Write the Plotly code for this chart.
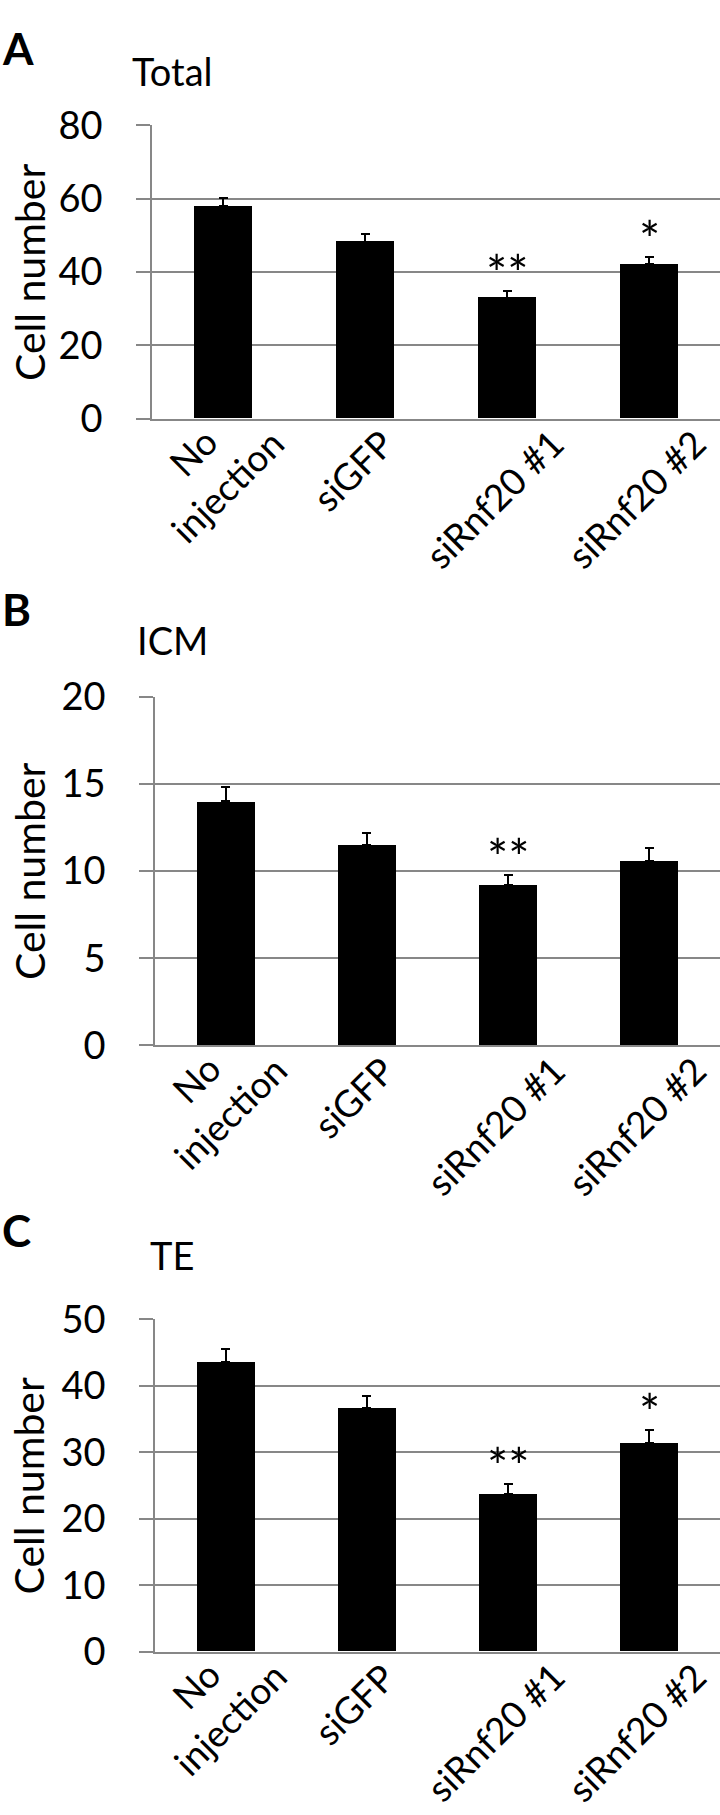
import plotly.graph_objects as go

# data (mean cell number, upper error bar, significance marks)
categories = ["No<br>injection", "siGFP", "siRnf20 #1", "siRnf20 #2"]

total_mean = [57.9, 48.3, 33.0, 42.2]
total_err = [2.3, 2.1, 1.9, 1.9]
total_stars = ["", "", "**", "*"]

icm_mean = [14.0, 11.5, 9.2, 10.6]
icm_err = [0.8, 0.7, 0.55, 0.7]
icm_stars = ["", "", "**", ""]

te_mean = [43.6, 36.6, 23.7, 31.4]
te_err = [2.0, 1.9, 1.5, 1.9]
te_stars = ["", "", "**", "*"]

W, H = 720, 1815
FONT = "Lato"
GRID = "#878787"
LBL = 37


def py(px):
    return 1 - px / H


# panel layout in pixels: letter, title, plot box
panels = [
    dict(letter="A", title="Total", mean=total_mean, err=total_err, stars=total_stars,
         ymax=80, dtick=20, top=103, bottom=404, left=152, letter_y=24, title_y=47),
    dict(letter="B", title="ICM", mean=icm_mean, err=icm_err, stars=icm_stars,
         ymax=20, dtick=5, top=689, bottom=1047, left=155, letter_y=599, title_y=631),
    dict(letter="C", title="TE", mean=te_mean, err=te_err, stars=te_stars,
         ymax=50, dtick=10, top=1328, bottom=1669, left=155, letter_y=1236, title_y=1262),
]

fig = go.Figure()
annotations = []
idx = list(range(len(categories)))

for i, p in enumerate(panels):
    n = "" if i == 0 else str(i + 1)
    xa, ya = "x" + n, "y" + n
    fig.add_trace(go.Bar(
        x=idx, y=p["mean"], xaxis=xa, yaxis=ya,
        marker=dict(color="black", line=dict(width=0)),
        width=0.41,
        error_y=dict(type="data", symmetric=False, array=p["err"],
                     arrayminus=[0] * len(p["err"]),
                     color="black", thickness=2, width=4.5),
        showlegend=False, hoverinfo="skip",
    ))
    fig.layout["xaxis" + n] = dict(
        domain=[p["left"] / W, 1], anchor=ya, range=[-0.5, 3.5],
        showticklabels=False, ticks="", showgrid=False, zeroline=False,
        showline=True, linecolor=GRID, linewidth=1.5,
    )
    fig.layout["yaxis" + n] = dict(
        domain=[py(p["bottom"]), py(p["top"])], anchor=xa,
        range=[0, p["ymax"]], dtick=p["dtick"], tick0=0,
        showgrid=True, gridcolor=GRID, gridwidth=1.5, zeroline=False,
        showline=True, linecolor=GRID, linewidth=1.5,
        ticks="outside", ticklen=14, tickcolor=GRID, tickwidth=1.5,
        ticklabelstandoff=26,
        tickfont=dict(family=FONT, size=38, color="black"),
    )
    # category labels, rotated and centred under each bar
    for j, c in enumerate(categories):
        extra = c.count("<br>") * 1.3 * LBL * 0.707
        annotations.append(dict(
            x=j, y=0, xref=xa, yref=ya, text=c, showarrow=False,
            textangle=-45, xanchor="center", yanchor="top",
            xshift=-13, yshift=1 + extra, align="center",
            font=dict(family=FONT, size=LBL, color="black"),
        ))
    # significance marks
    for j, s in enumerate(p["stars"]):
        if s:
            annotations.append(dict(
                x=j, y=p["mean"][j] + p["err"][j], xref=xa, yref=ya, text=s,
                showarrow=False, xanchor="center", yanchor="bottom", yshift=-14,
                font=dict(family=FONT, size=50, color="black"),
            ))
    # axis title
    annotations.append(dict(
        x=29 / W, y=py((p["top"] + p["bottom"]) / 2), xref="paper", yref="paper",
        text="Cell number", textangle=-90, showarrow=False,
        xanchor="center", yanchor="middle",
        font=dict(family=FONT, size=41, color="black"),
    ))
    # panel letter and title
    annotations.append(dict(
        x=0, y=py(p["letter_y"]), xref="paper", yref="paper", text="<b>%s</b>" % p["letter"],
        showarrow=False, xanchor="left", yanchor="middle",
        font=dict(family=FONT, size=44, color="black"),
    ))
    annotations.append(dict(
        x=172 / W, y=py(p["title_y"]), xref="paper", yref="paper", text=p["title"],
        showarrow=False, xanchor="center", yanchor="middle",
        font=dict(family=FONT, size=38, color="black"),
    ))

fig.update_layout(
    width=W, height=H,
    margin=dict(l=0, r=0, t=0, b=0),
    paper_bgcolor="white", plot_bgcolor="white",
    annotations=annotations,
    bargap=0,
)

fig.write_html("out.html", config={"displayModeBar": False},
               post_script="document.body.style.margin='0';")
